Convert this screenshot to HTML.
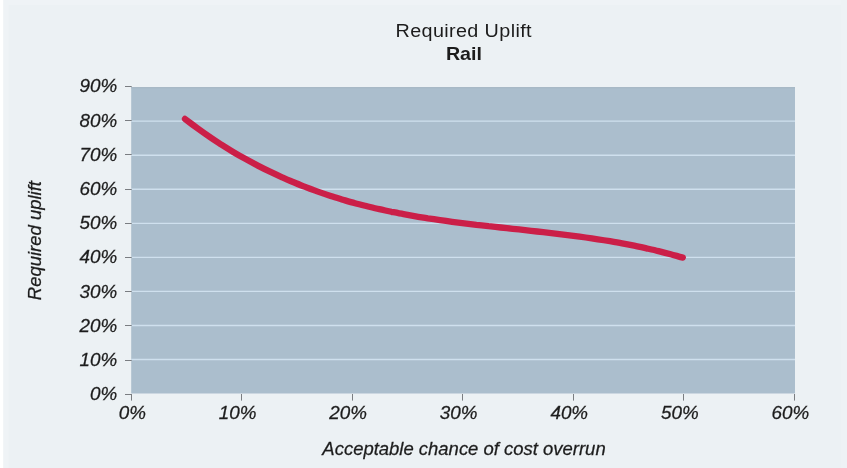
<!DOCTYPE html>
<html lang="en"><head><meta charset="utf-8"><title>Required Uplift - Rail</title>
<style>html,body{margin:0;padding:0;background:#ecf1f4;overflow:hidden}svg{display:block;will-change:transform}text{font-family:"Liberation Sans",Arial,Helvetica,sans-serif;fill:#1c1c1c}.i{font-style:italic;font-size:17.6px;stroke:#222;stroke-width:0.25px}</style></head><body>
<svg width="847" height="468" viewBox="0 0 847 468">
<rect x="0" y="0" width="847" height="468" fill="#ecf1f4"/>
<rect x="0" y="0" width="847" height="5" fill="#eff3f6"/>
<rect x="3" y="0" width="5.5" height="468" fill="#eff3f6"/>
<rect x="841" y="0" width="6" height="468" fill="#eef2f5"/>
<rect x="0" y="0" width="3.2" height="468" fill="#ffffff"/>
<rect x="131.2" y="87.0" width="663.8" height="306.5" fill="#abbecd"/>
<rect x="131.2" y="87.0" width="663.8" height="1.4" fill="#a8b9c6"/>
<line x1="131.2" y1="359.50" x2="795.0" y2="359.50" stroke="#cfe0ee" stroke-width="1.35"/>
<line x1="131.2" y1="325.45" x2="795.0" y2="325.45" stroke="#cfe0ee" stroke-width="1.35"/>
<line x1="131.2" y1="291.40" x2="795.0" y2="291.40" stroke="#cfe0ee" stroke-width="1.35"/>
<line x1="131.2" y1="257.35" x2="795.0" y2="257.35" stroke="#cfe0ee" stroke-width="1.35"/>
<line x1="131.2" y1="223.30" x2="795.0" y2="223.30" stroke="#cfe0ee" stroke-width="1.35"/>
<line x1="131.2" y1="189.25" x2="795.0" y2="189.25" stroke="#cfe0ee" stroke-width="1.35"/>
<line x1="131.2" y1="155.20" x2="795.0" y2="155.20" stroke="#cfe0ee" stroke-width="1.35"/>
<line x1="131.2" y1="121.15" x2="795.0" y2="121.15" stroke="#cfe0ee" stroke-width="1.35"/>
<line x1="125" y1="394.50" x2="131.7" y2="394.50" stroke="#7a7d81" stroke-width="1"/>
<text class="i" transform="translate(117.30 400.25) scale(1.070 1)" text-anchor="end">0%</text>
<line x1="125" y1="360.50" x2="131.7" y2="360.50" stroke="#7a7d81" stroke-width="1"/>
<text class="i" transform="translate(117.30 366.03) scale(1.070 1)" text-anchor="end">10%</text>
<line x1="125" y1="325.50" x2="131.7" y2="325.50" stroke="#7a7d81" stroke-width="1"/>
<text class="i" transform="translate(117.30 331.82) scale(1.070 1)" text-anchor="end">20%</text>
<line x1="125" y1="291.50" x2="131.7" y2="291.50" stroke="#7a7d81" stroke-width="1"/>
<text class="i" transform="translate(117.30 297.60) scale(1.070 1)" text-anchor="end">30%</text>
<line x1="125" y1="257.50" x2="131.7" y2="257.50" stroke="#7a7d81" stroke-width="1"/>
<text class="i" transform="translate(117.30 263.38) scale(1.070 1)" text-anchor="end">40%</text>
<line x1="125" y1="223.50" x2="131.7" y2="223.50" stroke="#7a7d81" stroke-width="1"/>
<text class="i" transform="translate(117.30 229.17) scale(1.070 1)" text-anchor="end">50%</text>
<line x1="125" y1="189.50" x2="131.7" y2="189.50" stroke="#7a7d81" stroke-width="1"/>
<text class="i" transform="translate(117.30 194.95) scale(1.070 1)" text-anchor="end">60%</text>
<line x1="125" y1="154.50" x2="131.7" y2="154.50" stroke="#7a7d81" stroke-width="1"/>
<text class="i" transform="translate(117.30 160.73) scale(1.070 1)" text-anchor="end">70%</text>
<line x1="125" y1="120.50" x2="131.7" y2="120.50" stroke="#7a7d81" stroke-width="1"/>
<text class="i" transform="translate(117.30 126.52) scale(1.070 1)" text-anchor="end">80%</text>
<line x1="125" y1="86.50" x2="131.7" y2="86.50" stroke="#7a7d81" stroke-width="1"/>
<text class="i" transform="translate(117.30 92.30) scale(1.070 1)" text-anchor="end">90%</text>
<line x1="131.50" y1="394.0" x2="131.50" y2="400.6" stroke="#7a7d81" stroke-width="1"/>
<text class="i" transform="translate(145.90 419.20) scale(1.070 1)" text-anchor="end">0%</text>
<line x1="241.50" y1="394.0" x2="241.50" y2="400.6" stroke="#7a7d81" stroke-width="1"/>
<text class="i" transform="translate(256.45 419.20) scale(1.070 1)" text-anchor="end">10%</text>
<line x1="352.50" y1="394.0" x2="352.50" y2="400.6" stroke="#7a7d81" stroke-width="1"/>
<text class="i" transform="translate(367.00 419.20) scale(1.070 1)" text-anchor="end">20%</text>
<line x1="462.50" y1="394.0" x2="462.50" y2="400.6" stroke="#7a7d81" stroke-width="1"/>
<text class="i" transform="translate(477.55 419.20) scale(1.070 1)" text-anchor="end">30%</text>
<line x1="573.50" y1="394.0" x2="573.50" y2="400.6" stroke="#7a7d81" stroke-width="1"/>
<text class="i" transform="translate(588.10 419.20) scale(1.070 1)" text-anchor="end">40%</text>
<line x1="683.50" y1="394.0" x2="683.50" y2="400.6" stroke="#7a7d81" stroke-width="1"/>
<text class="i" transform="translate(698.65 419.20) scale(1.070 1)" text-anchor="end">50%</text>
<line x1="794.50" y1="394.0" x2="794.50" y2="400.6" stroke="#7a7d81" stroke-width="1"/>
<text class="i" transform="translate(809.20 419.20) scale(1.070 1)" text-anchor="end">60%</text>
<path d="M185.0 118.9 C187.0 120.4 193.1 125.1 197.1 128.1 C201.2 131.1 205.2 133.9 209.3 136.7 C213.3 139.5 217.4 142.1 221.4 144.7 C225.5 147.3 229.5 149.8 233.6 152.2 C237.6 154.6 241.7 156.9 245.7 159.1 C249.8 161.4 253.8 163.5 257.8 165.6 C261.9 167.7 265.9 169.7 270.0 171.7 C274.0 173.6 278.1 175.5 282.1 177.3 C286.2 179.1 290.2 180.9 294.3 182.5 C298.3 184.2 302.4 185.8 306.4 187.4 C310.5 189.0 314.5 190.4 318.6 191.9 C322.6 193.3 326.7 194.7 330.7 196.0 C334.7 197.3 338.8 198.5 342.8 199.7 C346.9 200.9 350.9 202.1 355.0 203.2 C359.0 204.3 363.1 205.3 367.1 206.3 C371.2 207.3 375.2 208.3 379.3 209.2 C383.3 210.1 387.4 210.9 391.4 211.8 C395.5 212.6 399.5 213.4 403.5 214.1 C407.6 214.9 411.6 215.6 415.7 216.3 C419.7 217.0 423.8 217.6 427.8 218.3 C431.9 218.9 435.9 219.5 440.0 220.1 C444.0 220.7 448.1 221.2 452.1 221.8 C456.2 222.3 460.2 222.8 464.3 223.3 C468.3 223.8 472.3 224.3 476.4 224.8 C480.4 225.2 484.5 225.7 488.5 226.2 C492.6 226.6 496.6 227.0 500.7 227.5 C504.7 227.9 508.8 228.4 512.8 228.8 C516.9 229.2 520.9 229.7 525.0 230.1 C529.0 230.6 533.1 231.0 537.1 231.5 C541.1 231.9 545.2 232.4 549.2 232.8 C553.3 233.3 557.3 233.8 561.4 234.3 C565.4 234.8 569.5 235.3 573.5 235.8 C577.6 236.4 581.6 236.9 585.7 237.5 C589.7 238.1 593.8 238.7 597.8 239.3 C601.9 239.9 605.9 240.6 610.0 241.2 C614.0 241.9 618.0 242.6 622.1 243.4 C626.1 244.1 630.2 244.9 634.2 245.7 C638.3 246.5 642.3 247.4 646.4 248.3 C650.4 249.2 654.5 250.1 658.5 251.1 C662.6 252.1 666.6 253.1 670.7 254.2 C674.7 255.3 680.8 257.1 682.8 257.6" fill="none" stroke="#cb1f48" stroke-width="6.3" stroke-linecap="round" stroke-linejoin="round"/>
<text transform="translate(463.7 37.1) scale(1.07 1)" text-anchor="middle" style="font-size:18.5px;letter-spacing:0.35px">Required Uplift</text>
<text transform="translate(463.9 60.1) scale(1.08 1)" text-anchor="middle" style="font-size:18.2px;font-weight:bold">Rail</text>
<text class="i" transform="translate(464.00 455.00) scale(1.050 1)" text-anchor="middle">Acceptable chance of cost overrun</text>
<text class="i" transform="translate(40.50 240.60) rotate(-90) scale(1.050 1)" text-anchor="middle">Required uplift</text>
</svg></body></html>
